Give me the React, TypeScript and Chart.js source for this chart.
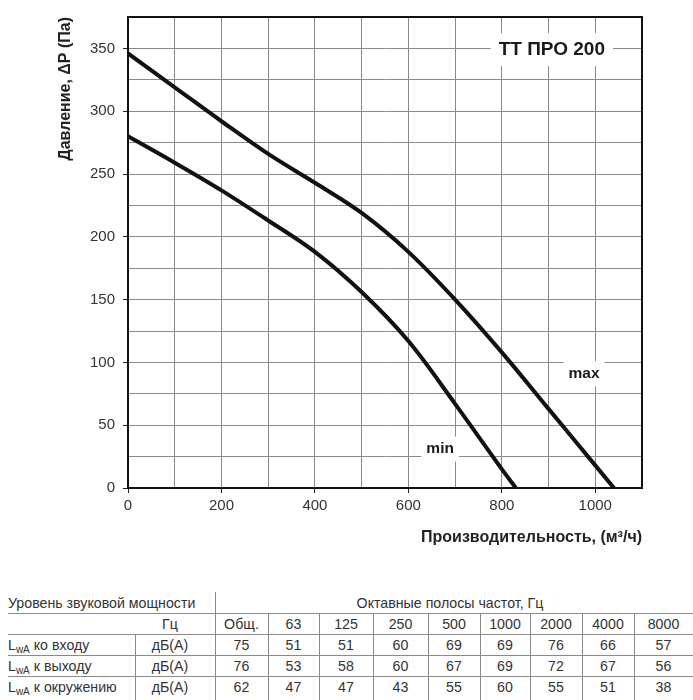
import React, { useEffect, useRef } from 'react';
import { Chart, registerables } from 'chart.js';

Chart.register(...registerables);

// ---- Chart data ----
const maxFlow = [0, 100, 200, 300, 400, 500, 600, 700, 800, 900, 960, 1040];
const maxPressure = [346, 319, 292, 266, 243, 219, 188, 150, 108, 63, 36, 0];
const minFlow = [0, 100, 200, 300, 400, 500, 600, 700, 800, 830];
const minPressure = [280, 259, 237, 213, 188, 156, 117, 67, 15, 0];

const xTickLabels = [0, 200, 400, 600, 800, 1000];
const yTickLabels = [0, 50, 100, 150, 200, 250, 300, 350];

const chartTitle = 'ТТ ПРО 200';
const chartTitlePos = [907, 349];
const maxLabelPos = [976, 91];
const minLabelPos = [668, 31];

// ---- Table data ----
const tableTitle = 'Уровень звуковой мощности';
const bandsTitle = 'Октавные полосы частот, Гц';
const unitHz = 'Гц';
const unitDb = 'дБ(А)';
const bandHeaders = ['Общ.', '63', '125', '250', '500', '1000', '2000', '4000', '8000'];
const rowNames = ['ко входу', 'к выходу', 'к окружению'];
const inletLevels = [75, 51, 51, 60, 69, 69, 76, 66, 57];
const outletLevels = [76, 53, 58, 60, 67, 69, 72, 67, 56];
const ambientLevels = [62, 47, 47, 43, 55, 60, 55, 51, 38];

const FONT = '"Liberation Sans", Arial, Helvetica, sans-serif';

const labelPlugin = {
  id: 'ptLabels',
  beforeDatasetsDraw(chart: any) {
    const { ctx, chartArea: a } = chart;
    ctx.save();
    ctx.strokeStyle = '#111';
    ctx.lineWidth = 2;
    ctx.strokeRect(a.left, a.top, a.right - a.left, a.bottom - a.top);
    ctx.restore();
  },
  afterDatasetsDraw(chart: any) {
    const { ctx } = chart;
    const xs = chart.scales.x;
    const ys = chart.scales.y;
    const items = [
      { text: chartTitle, pos: chartTitlePos, size: 19, padX: 8, padY: 6 },
      { text: 'max', pos: maxLabelPos, size: 15.5, padX: 5, padY: 4 },
      { text: 'min', pos: minLabelPos, size: 15.5, padX: 5, padY: 4 },
    ];
    ctx.save();
    items.forEach((it) => {
      const px = xs.getPixelForValue(it.pos[0]);
      const py = ys.getPixelForValue(it.pos[1]);
      ctx.font = `bold ${it.size}px ${FONT}`;
      const w = ctx.measureText(it.text).width;
      ctx.fillStyle = '#ffffff';
      ctx.fillRect(px - w / 2 - it.padX, py - it.size * 0.55 - it.padY, w + it.padX * 2, it.size * 1.1 + it.padY * 2);
      ctx.fillStyle = '#1a1a1a';
      ctx.textAlign = 'center';
      ctx.textBaseline = 'middle';
      ctx.fillText(it.text, px, py);
    });
    ctx.restore();
  },
};

function PressureChart() {
  const ref = useRef<HTMLCanvasElement | null>(null);
  useEffect(() => {
    if (!ref.current) return;
    const tickFont = { family: FONT, size: 15 };
    const chart = new Chart(ref.current, {
      type: 'line',
      data: {
        datasets: [
          {
            label: 'max',
            data: maxFlow.map((x, i) => ({ x, y: maxPressure[i] })),
            borderColor: '#111',
            borderWidth: 4,
            pointRadius: 0,
            tension: 0.35,
            fill: false,
          },
          {
            label: 'min',
            data: minFlow.map((x, i) => ({ x, y: minPressure[i] })),
            borderColor: '#111',
            borderWidth: 4,
            pointRadius: 0,
            tension: 0.35,
            fill: false,
          },
        ],
      },
      options: {
        animation: false,
        responsive: false,
        devicePixelRatio: 1,
        layout: { padding: { left: 0, right: 51, top: 11, bottom: 0 } },
        plugins: { legend: { display: false }, tooltip: { enabled: false } },
        scales: {
          x: {
            type: 'linear',
            min: 0,
            max: 1100,
            ticks: {
              stepSize: 100,
              autoSkip: false,
              maxRotation: 0,
              padding: 4,
              color: '#333',
              font: tickFont,
              callback: (v: any) => (xTickLabels.includes(Number(v)) ? String(v) : ''),
            },
            grid: {
              color: '#8a8a8a',
              lineWidth: 1,
              tickLength: 5,
              tickColor: (c: any) => (c.tick && xTickLabels.includes(c.tick.value) ? '#222' : 'rgba(0,0,0,0)'),
            },
            border: { color: '#111', width: 2 },
            title: {
              display: true,
              text: 'Производительность, (м³/ч)',
              align: 'end',
              color: '#222',
              font: { family: FONT, size: 16, weight: 'bold' },
              padding: { top: 0, bottom: 13 },
            },
            afterFit: (s: any) => {
              s.height = 72;
            },
          },
          y: {
            type: 'linear',
            min: 0,
            max: 375,
            ticks: {
              stepSize: 25,
              autoSkip: false,
              padding: 8,
              color: '#333',
              font: tickFont,
              callback: (v: any) => (yTickLabels.includes(Number(v)) ? String(v) : ''),
            },
            grid: {
              color: '#8a8a8a',
              lineWidth: 1,
              tickLength: 5,
              tickColor: (c: any) => (c.tick && yTickLabels.includes(c.tick.value) ? '#222' : 'rgba(0,0,0,0)'),
            },
            border: { color: '#111', width: 2 },
            title: {
              display: true,
              text: 'Давление, ΔP (Па)',
              align: 'end',
              color: '#222',
              font: { family: FONT, size: 16, weight: 'bold' },
              padding: { top: 56, bottom: 0 },
            },
            afterFit: (s: any) => {
              s.width = 128;
            },
          },
        },
      },
      plugins: [labelPlugin],
    } as any);
    return () => chart.destroy();
  }, []);
  return (
    <canvas
      ref={ref}
      width={693}
      height={560}
      style={{ position: 'absolute', left: 0, top: 0, width: 693, height: 560, display: 'block' }}
    />
  );
}

const colEdges = [215, 268, 319, 373, 428, 480, 530, 582, 634, 693];
const rowTops = [592, 613, 634, 655, 676, 697];

function SoundTable() {
  const text: React.CSSProperties = {
    position: 'absolute',
    fontFamily: FONT,
    fontSize: 14.2,
    color: '#333',
    lineHeight: '21px',
    height: 21,
    whiteSpace: 'nowrap',
  };
  const lineColor = '#8a8a8a';
  const hLine = (y: number, key: string) => (
    <div key={key} style={{ position: 'absolute', left: 8, top: y, width: 693 - 8, height: 1, background: lineColor }} />
  );
  const vLine = (x: number, y0: number, key: string) => (
    <div key={key} style={{ position: 'absolute', left: x, top: y0, width: 1, height: 700 - y0, background: lineColor }} />
  );
  const rows = [inletLevels, outletLevels, ambientLevels];
  const cells: React.ReactNode[] = [];
  cells.push(
    <div key="tt" style={{ ...text, left: 8, top: rowTops[0] + 1 }}>{tableTitle}</div>,
    <div key="bt" style={{ ...text, left: colEdges[0], top: rowTops[0] + 1, width: 693 - colEdges[0] - 8, textAlign: 'center' }}>{bandsTitle}</div>,
    <div key="hz" style={{ ...text, left: 130, top: rowTops[1] + 1, width: 80, textAlign: 'center' }}>{unitHz}</div>
  );
  bandHeaders.forEach((h, i) => {
    cells.push(
      <div key={'h' + i} style={{ ...text, left: colEdges[i], top: rowTops[1] + 1, width: colEdges[i + 1] - colEdges[i], textAlign: 'center' }}>{h}</div>
    );
  });
  rows.forEach((vals, r) => {
    const top = rowTops[r + 2] + 1;
    cells.push(
      <div key={'n' + r} style={{ ...text, left: 8, top }}>
        L<sub style={{ fontSize: 10, verticalAlign: 'baseline', position: 'relative', top: 3 }}>wA</sub> {rowNames[r]}
      </div>,
      <div key={'u' + r} style={{ ...text, left: 130, top, width: 80, textAlign: 'center' }}>{unitDb}</div>
    );
    vals.forEach((v, i) => {
      cells.push(
        <div key={'v' + r + '-' + i} style={{ ...text, left: colEdges[i], top, width: colEdges[i + 1] - colEdges[i], textAlign: 'center' }}>{v}</div>
      );
    });
  });
  const lines: React.ReactNode[] = [];
  for (let r = 1; r <= 4; r++) lines.push(hLine(rowTops[r], 'hl' + r));
  lines.push(vLine(colEdges[0], rowTops[0], 'vl0'));
  for (let i = 1; i < colEdges.length - 1; i++) lines.push(vLine(colEdges[i], rowTops[1], 'vl' + i));
  lines.push(vLine(135, rowTops[2], 'vlu'));
  return (
    <>
      {lines}
      {cells}
    </>
  );
}

export default function App() {
  return (
    <div style={{ position: 'absolute', left: 0, top: 0, width: 693, height: 700, background: '#fff', overflow: 'hidden' }}>
      <PressureChart />
      <SoundTable />
    </div>
  );
}
